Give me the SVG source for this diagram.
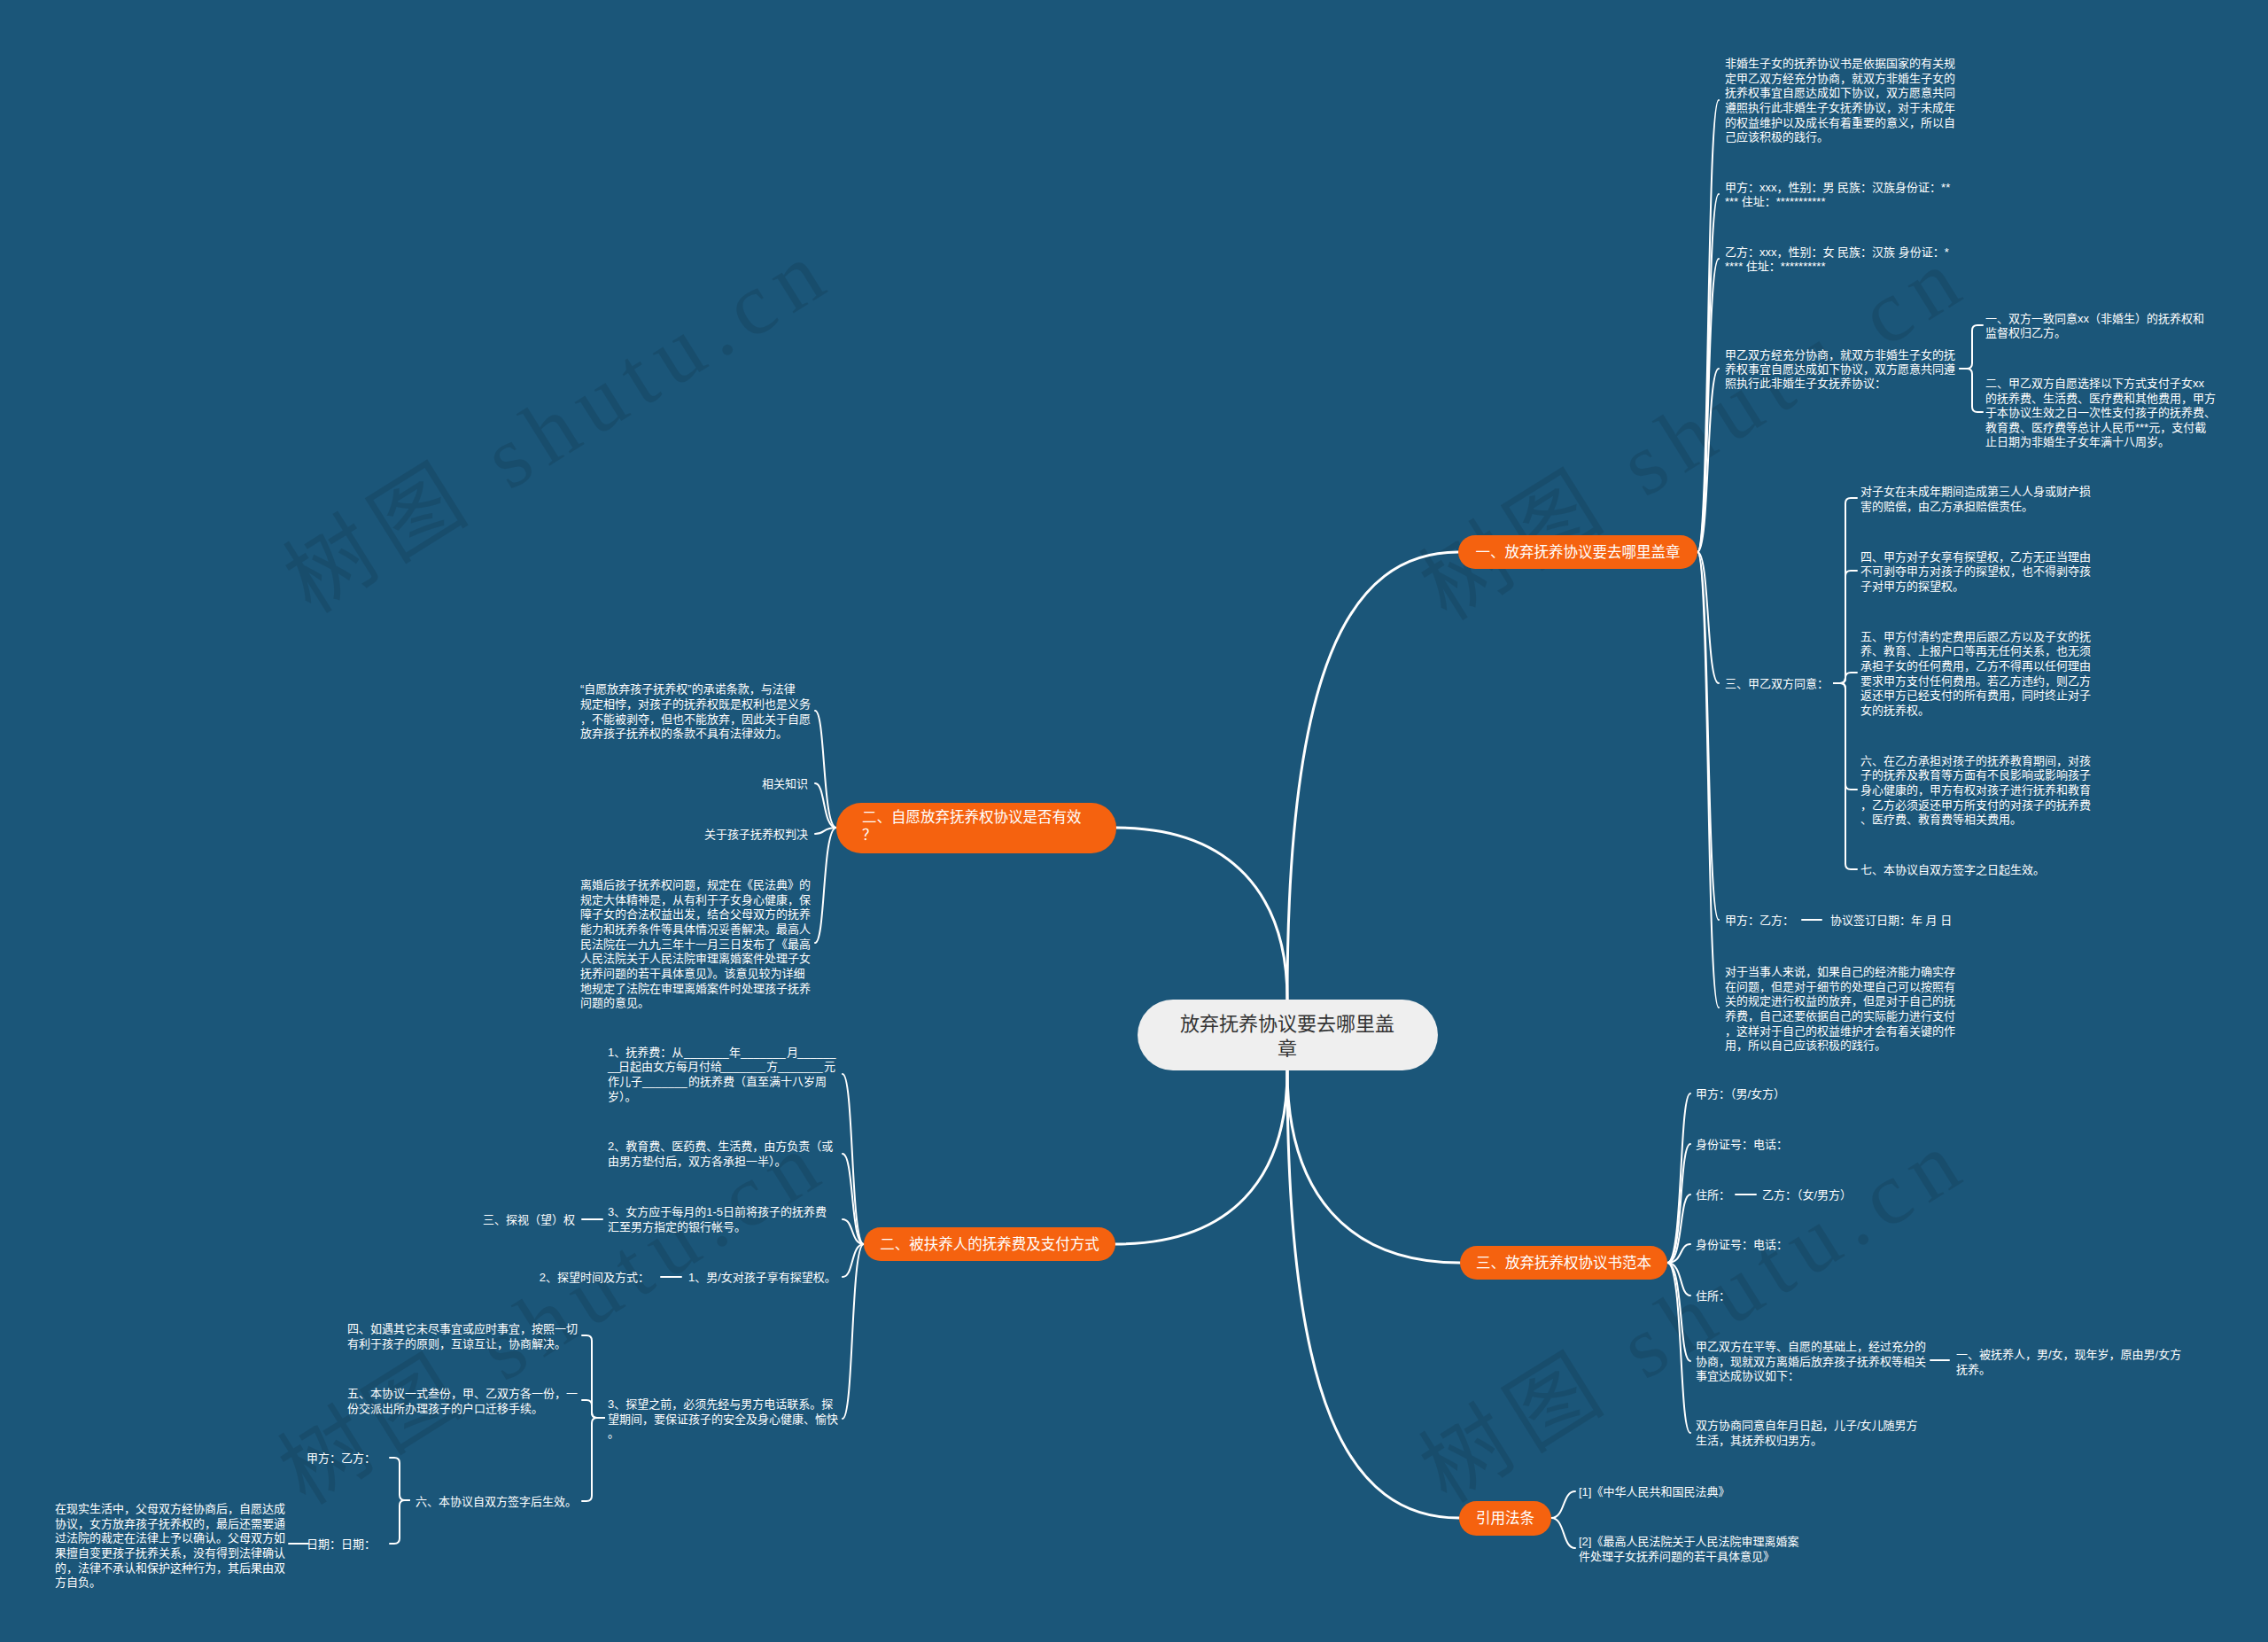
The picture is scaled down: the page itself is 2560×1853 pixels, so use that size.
<svg xmlns="http://www.w3.org/2000/svg" width="2560" height="1853" viewBox="0 0 2560 1853">
<style>
text{font-family:'Liberation Sans','Noto Sans CJK SC',sans-serif;}
.t{font-size:13px;fill:#ffffff;}
.e{text-anchor:end;}
.n{font-size:16.5px;fill:#ffffff;}
.on{fill:#f5620f;}
.c{fill:none;stroke:#ffffff;stroke-width:2;stroke-linecap:round;stroke-linejoin:round;}
.m{stroke-width:3;}
.wm{font-family:'Liberation Serif','Noto Sans CJK SC',serif;font-size:100px;fill:#000000;fill-opacity:0.1;}
</style>
<rect x="0" y="0" width="2560" height="1853" fill="#1b5679"/>

<g id="watermarks">
<text class="wm" x="351" y="694" textLength="690" lengthAdjust="spacing" transform="rotate(-32 351 694)">树图 shutu.cn</text>
<text class="wm" x="1633" y="702" textLength="690" lengthAdjust="spacing" transform="rotate(-32 1633 702)">树图 shutu.cn</text>
<text class="wm" x="345" y="1700" textLength="690" lengthAdjust="spacing" transform="rotate(-32 345 1700)">树图 shutu.cn</text>
<text class="wm" x="1633" y="1698" textLength="690" lengthAdjust="spacing" transform="rotate(-32 1633 1698)">树图 shutu.cn</text>
</g>

<g id="connectors">
<path class="c m" d="M1453 1128 C1453 760 1520 623 1646 623"/>
<path class="c m" d="M1453 1128 C1453 1010 1390 934 1260 934"/>
<path class="c m" d="M1453 1208 C1453 1330 1390 1404 1259 1404"/>
<path class="c m" d="M1453 1208 C1453 1345 1520 1425 1648 1425"/>
<path class="c m" d="M1453 1208 C1453 1580 1520 1713 1647 1713"/>

<path class="c" d="M1916 623 C1930 623 1926 113 1940 113"/>
<path class="c" d="M1916 623 C1930 623 1926 219 1940 219"/>
<path class="c" d="M1916 623 C1930 623 1926 292 1940 292"/>
<path class="c" d="M1916 623 C1930 623 1926 416 1940 416"/>
<path class="c" d="M1916 623 C1930 623 1926 771 1940 771"/>
<path class="c" d="M1916 623 C1930 623 1926 1038 1940 1038"/>
<path class="c" d="M1916 623 C1930 623 1926 1137 1940 1137"/>

<path class="c" d="M2212 416 H2220 Q2226 416 2226 410 V373 Q2226 367 2232 367 H2238"/>
<path class="c" d="M2212 416 H2220 Q2226 416 2226 422 V459 Q2226 465 2232 465 H2238"/>

<path class="c" d="M2070 771 H2077 Q2083 771 2083 765 V568 Q2083 562 2089 562 H2096"/>
<path class="c" d="M2070 771 H2077 Q2083 771 2083 765 V650 Q2083 644 2089 644 H2096"/>
<path class="c" d="M2070 771 H2077 Q2083 771 2083 765 Q2083 759 2089 759 H2096"/>
<path class="c" d="M2070 771 H2077 Q2083 771 2083 777 V885 Q2083 891 2089 891 H2096"/>
<path class="c" d="M2070 771 H2077 Q2083 771 2083 777 V975 Q2083 981 2089 981 H2096"/>
<path class="c" d="M2034 1038 H2056"/>

<path class="c" d="M1882 1425 C1900 1425 1895 1234 1908 1234"/>
<path class="c" d="M1882 1425 C1900 1425 1895 1291 1908 1291"/>
<path class="c" d="M1882 1425 C1900 1425 1895 1348 1908 1348"/>
<path class="c" d="M1882 1425 C1900 1425 1895 1404 1908 1404"/>
<path class="c" d="M1882 1425 C1900 1425 1895 1462 1908 1462"/>
<path class="c" d="M1882 1425 C1900 1425 1895 1536 1908 1536"/>
<path class="c" d="M1882 1425 C1900 1425 1895 1617 1908 1617"/>
<path class="c" d="M1959 1348 H1982"/>
<path class="c" d="M2179 1535 H2200"/>

<path class="c" d="M1751 1713 C1767 1713 1763 1683 1778 1683"/>
<path class="c" d="M1751 1713 C1767 1713 1763 1747 1778 1747"/>

<path class="c" d="M944 934 C928 934 932 802 920 802"/>
<path class="c" d="M944 934 C928 934 932 884 920 884"/>
<path class="c" d="M944 934 C928 934 932 941 920 941"/>
<path class="c" d="M944 934 C928 934 932 1064 920 1064"/>

<path class="c" d="M975 1404 C960 1404 964 1212 951 1212"/>
<path class="c" d="M975 1404 C960 1404 964 1302 951 1302"/>
<path class="c" d="M975 1404 C960 1404 964 1376 951 1376"/>
<path class="c" d="M975 1404 C960 1404 964 1441 951 1441"/>
<path class="c" d="M975 1404 C960 1404 964 1601 951 1601"/>
<path class="c" d="M657 1376 H680"/>
<path class="c" d="M746 1441 H769"/>

<path class="c" d="M682 1600 H674 Q668 1600 668 1594 V1513 Q668 1507 662 1507 H657"/>
<path class="c" d="M682 1600 H674 Q668 1600 668 1594 V1586 Q668 1580 662 1580 H657"/>
<path class="c" d="M682 1600 H674 Q668 1600 668 1606 V1688 Q668 1694 662 1694 H657"/>
<path class="c" d="M462 1693 H457 Q451 1693 451 1687 V1651 Q451 1645 445 1645 H440"/>
<path class="c" d="M462 1693 H457 Q451 1693 451 1699 V1736 Q451 1742 445 1742 H440"/>
<path class="c" d="M326 1742 H348"/>
</g>

<g id="root">
<rect x="1284" y="1128" width="339" height="80" rx="40" fill="#efefef"/>
<text x="1453" y="1163" font-size="22" fill="#333333" text-anchor="middle">放弃抚养协议要去哪里盖</text>
<text x="1453" y="1191" font-size="22" fill="#333333" text-anchor="middle">章</text>
</g>

<g id="n1">
<rect class="on" x="1646" y="604" width="270" height="38" rx="19"/>
<text class="n" x="1781" y="629" text-anchor="middle">一、放弃抚养协议要去哪里盖章</text>
</g>
<g id="n1-p1">
<text class="t"><tspan x="1947" y="76">非婚生子女的抚养协议书是依据国家的有关规</tspan><tspan x="1947" y="92.7">定甲乙双方经充分协商，就双方非婚生子女的</tspan><tspan x="1947" y="109.3">抚养权事宜自愿达成如下协议，双方愿意共同</tspan><tspan x="1947" y="126">遵照执行此非婚生子女抚养协议，对于未成年</tspan><tspan x="1947" y="142.7">的权益维护以及成长有着重要的意义，所以自</tspan><tspan x="1947" y="159.3">己应该积极的践行。</tspan></text>
</g>
<g id="n1-p2">
<text class="t"><tspan x="1947" y="216">甲方：xxx，性别：男 民族：汉族身份证：**</tspan><tspan x="1947" y="232">*** 住址：***********</tspan></text>
</g>
<g id="n1-p3">
<text class="t"><tspan x="1947" y="289">乙方：xxx，性别：女 民族：汉族 身份证：*</tspan><tspan x="1947" y="305">**** 住址：**********</tspan></text>
</g>
<g id="n1-p4">
<text class="t"><tspan x="1947" y="405">甲乙双方经充分协商，就双方非婚生子女的抚</tspan><tspan x="1947" y="421">养权事宜自愿达成如下协议，双方愿意共同遵</tspan><tspan x="1947" y="437">照执行此非婚生子女抚养协议：</tspan></text>
</g>
<g id="n1-p4-a">
<text class="t"><tspan x="2241" y="364">一、双方一致同意xx（非婚生）的抚养权和</tspan><tspan x="2241" y="380">监督权归乙方。</tspan></text>
</g>
<g id="n1-p4-b">
<text class="t"><tspan x="2241" y="437">二、甲乙双方自愿选择以下方式支付子女xx</tspan><tspan x="2241" y="453.5">的抚养费、生活费、医疗费和其他费用，甲方</tspan><tspan x="2241" y="470">于本协议生效之日一次性支付孩子的抚养费、</tspan><tspan x="2241" y="486.5">教育费、医疗费等总计人民币***元，支付截</tspan><tspan x="2241" y="503">止日期为非婚生子女年满十八周岁。</tspan></text>
</g>
<g id="n1-p5">
<text class="t" x="1947" y="776">三、甲乙双方同意：</text>
</g>
<g id="n1-p5-a">
<text class="t"><tspan x="2100" y="559">对子女在未成年期间造成第三人人身或财产损</tspan><tspan x="2100" y="575.7">害的赔偿，由乙方承担赔偿责任。</tspan></text>
</g>
<g id="n1-p5-b">
<text class="t"><tspan x="2100" y="633">四、甲方对子女享有探望权，乙方无正当理由</tspan><tspan x="2100" y="649.3">不可剥夺甲方对孩子的探望权，也不得剥夺孩</tspan><tspan x="2100" y="666">子对甲方的探望权。</tspan></text>
</g>
<g id="n1-p5-c">
<text class="t"><tspan x="2100" y="722.7">五、甲方付清约定费用后跟乙方以及子女的抚</tspan><tspan x="2100" y="739.3">养、教育、上报户口等再无任何关系，也无须</tspan><tspan x="2100" y="756">承担子女的任何费用，乙方不得再以任何理由</tspan><tspan x="2100" y="772.7">要求甲方支付任何费用。若乙方违约，则乙方</tspan><tspan x="2100" y="789.3">返还甲方已经支付的所有费用，同时终止对子</tspan><tspan x="2100" y="806">女的抚养权。</tspan></text>
</g>
<g id="n1-p5-d">
<text class="t"><tspan x="2100" y="862.7">六、在乙方承担对孩子的抚养教育期间，对孩</tspan><tspan x="2100" y="879.3">子的抚养及教育等方面有不良影响或影响孩子</tspan><tspan x="2100" y="896">身心健康的，甲方有权对孩子进行抚养和教育</tspan><tspan x="2100" y="912.7">，乙方必须返还甲方所支付的对孩子的抚养费</tspan><tspan x="2100" y="929.3">、医疗费、教育费等相关费用。</tspan></text>
</g>
<g id="n1-p5-e">
<text class="t" x="2100" y="986">七、本协议自双方签字之日起生效。</text>
</g>
<g id="n1-p6">
<text class="t" x="1947" y="1043">甲方：乙方：</text>
</g>
<g id="n1-p6-a">
<text class="t" x="2066" y="1043">协议签订日期：年 月 日</text>
</g>
<g id="n1-p7">
<text class="t"><tspan x="1947" y="1101">对于当事人来说，如果自己的经济能力确实存</tspan><tspan x="1947" y="1117.7">在问题，但是对于细节的处理自己可以按照有</tspan><tspan x="1947" y="1134.3">关的规定进行权益的放弃，但是对于自己的抚</tspan><tspan x="1947" y="1151">养费，自己还要依据自己的实际能力进行支付</tspan><tspan x="1947" y="1167.7">，这样对于自己的权益维护才会有着关键的作</tspan><tspan x="1947" y="1184.3">用，所以自己应该积极的践行。</tspan></text>
</g>

<g id="n2">
<rect class="on" x="944" y="906" width="316" height="57" rx="28"/>
<text class="n"><tspan x="973" y="928">二、自愿放弃抚养权协议是否有效</tspan><tspan x="973" y="948">？</tspan></text>
</g>
<g id="n2-a">
<text class="t"><tspan x="655" y="782.3">“自愿放弃孩子抚养权”的承诺条款，与法律</tspan><tspan x="655" y="799">规定相悖，对孩子的抚养权既是权利也是义务</tspan><tspan x="655" y="815.7">，不能被剥夺，但也不能放弃，因此关于自愿</tspan><tspan x="655" y="832.3">放弃孩子抚养权的条款不具有法律效力。</tspan></text>
</g>
<g id="n2-b"><text class="t e" x="912" y="889">相关知识</text></g>
<g id="n2-c"><text class="t e" x="912" y="946">关于孩子抚养权判决</text></g>
<g id="n2-d">
<text class="t"><tspan x="655" y="1003">离婚后孩子抚养权问题，规定在《民法典》的</tspan><tspan x="655" y="1019.7">规定大体精神是，从有利于子女身心健康，保</tspan><tspan x="655" y="1036.3">障子女的合法权益出发，结合父母双方的抚养</tspan><tspan x="655" y="1053">能力和抚养条件等具体情况妥善解决。最高人</tspan><tspan x="655" y="1069.7">民法院在一九九三年十一月三日发布了《最高</tspan><tspan x="655" y="1086.3">人民法院关于人民法院审理离婚案件处理子女</tspan><tspan x="655" y="1103">抚养问题的若干具体意见》。该意见较为详细</tspan><tspan x="655" y="1119.7">地规定了法院在审理离婚案件时处理孩子抚养</tspan><tspan x="655" y="1136.3">问题的意见。</tspan></text>
</g>

<g id="n3">
<rect class="on" x="975" y="1385" width="284" height="38" rx="19"/>
<text class="n" x="1117" y="1410" text-anchor="middle">二、被扶养人的抚养费及支付方式</text>
</g>
<g id="n3-a">
<text class="t"><tspan x="686" y="1192">1、抚养费：从</tspan><tspan x="772" y="1192">_______</tspan><tspan x="823" y="1192">年</tspan><tspan x="836" y="1192">_______</tspan><tspan x="888" y="1192">月</tspan><tspan x="900" y="1192">______</tspan><tspan x="686" y="1208.3">__</tspan><tspan x="698" y="1208.3">日起由女方每月付给</tspan><tspan x="813" y="1208.3">_______</tspan><tspan x="865" y="1208.3">方</tspan><tspan x="878" y="1208.3">_______</tspan><tspan x="930" y="1208.3">元</tspan><tspan x="686" y="1225">作儿子</tspan><tspan x="725" y="1225">_______</tspan><tspan x="777" y="1225">的抚养费（直至满十八岁周</tspan><tspan x="686" y="1242">岁）。</tspan></text>
</g>
<g id="n3-b">
<text class="t"><tspan x="686" y="1298">2、教育费、医药费、生活费，由方负责（或</tspan><tspan x="686" y="1315">由男方垫付后，双方各承担一半）。</tspan></text>
</g>
<g id="n3-c">
<text class="t"><tspan x="686" y="1372">3、女方应于每月的1-5日前将孩子的抚养费</tspan><tspan x="686" y="1389">汇至男方指定的银行帐号。</tspan></text>
</g>
<g id="n3-c-a"><text class="t e" x="649" y="1381">三、探视（望）权</text></g>
<g id="n3-d"><text class="t" x="777" y="1446">1、男/女对孩子享有探望权。</text></g>
<g id="n3-d-a"><text class="t e" x="733" y="1446">2、探望时间及方式：</text></g>
<g id="n3-e">
<text class="t"><tspan x="686" y="1589">3、探望之前，必须先经与男方电话联系。探</tspan><tspan x="686" y="1605.7">望期间，要保证孩子的安全及身心健康、愉快</tspan><tspan x="686" y="1622.3">。</tspan></text>
</g>
<g id="n3-e-a">
<text class="t"><tspan x="392" y="1504">四、如遇其它未尽事宜或应时事宜，按照一切</tspan><tspan x="392" y="1520.7">有利于孩子的原则，互谅互让，协商解决。</tspan></text>
</g>
<g id="n3-e-b">
<text class="t"><tspan x="392" y="1577">五、本协议一式叁份，甲、乙双方各一份，一</tspan><tspan x="392" y="1593.7">份交派出所办理孩子的户口迁移手续。</tspan></text>
</g>
<g id="n3-e-c"><text class="t" x="469" y="1699">六、本协议自双方签字后生效。</text></g>
<g id="n3-e-c-a"><text class="t e" x="424" y="1650">甲方：乙方：</text></g>
<g id="n3-e-c-b"><text class="t e" x="424" y="1747">日期：日期：</text></g>
<g id="n3-e-c-b-a">
<text class="t"><tspan x="62" y="1707">在现实生活中，父母双方经协商后，自愿达成</tspan><tspan x="62" y="1723.7">协议，女方放弃孩子抚养权的，最后还需要通</tspan><tspan x="62" y="1740.3">过法院的裁定在法律上予以确认。父母双方如</tspan><tspan x="62" y="1757">果擅自变更孩子抚养关系，没有得到法律确认</tspan><tspan x="62" y="1773.7">的，法律不承认和保护这种行为，其后果由双</tspan><tspan x="62" y="1790.3">方自负。</tspan></text>
</g>

<g id="n4">
<rect class="on" x="1648" y="1406" width="234" height="38" rx="19"/>
<text class="n" x="1765" y="1431" text-anchor="middle">三、放弃抚养权协议书范本</text>
</g>
<g id="n4-a"><text class="t" x="1914" y="1239">甲方：（男/女方）</text></g>
<g id="n4-b"><text class="t" x="1914" y="1296">身份证号：电话：</text></g>
<g id="n4-c"><text class="t" x="1914" y="1353">住所：</text></g>
<g id="n4-c-a"><text class="t" x="1989" y="1353">乙方：（女/男方）</text></g>
<g id="n4-d"><text class="t" x="1914" y="1409">身份证号：电话：</text></g>
<g id="n4-e"><text class="t" x="1914" y="1467">住所：</text></g>
<g id="n4-f">
<text class="t"><tspan x="1914" y="1524">甲乙双方在平等、自愿的基础上，经过充分的</tspan><tspan x="1914" y="1540.7">协商，现就双方离婚后放弃孩子抚养权等相关</tspan><tspan x="1914" y="1557.3">事宜达成协议如下：</tspan></text>
</g>
<g id="n4-f-a">
<text class="t"><tspan x="2208" y="1533">一、被抚养人，男/女，现年岁，原由男/女方</tspan><tspan x="2208" y="1550">抚养。</tspan></text>
</g>
<g id="n4-g">
<text class="t"><tspan x="1914" y="1613">双方协商同意自年月日起，儿子/女儿随男方</tspan><tspan x="1914" y="1630">生活，其抚养权归男方。</tspan></text>
</g>

<g id="n5">
<rect class="on" x="1647" y="1694" width="104" height="39" rx="19.5"/>
<text class="n" x="1699" y="1719" text-anchor="middle">引用法条</text>
</g>
<g id="n5-a"><text class="t" x="1782" y="1688">[1]《中华人民共和国民法典》</text></g>
<g id="n5-b">
<text class="t"><tspan x="1782" y="1744">[2]《最高人民法院关于人民法院审理离婚案</tspan><tspan x="1782" y="1761">件处理子女抚养问题的若干具体意见》</tspan></text>
</g>
</svg>
